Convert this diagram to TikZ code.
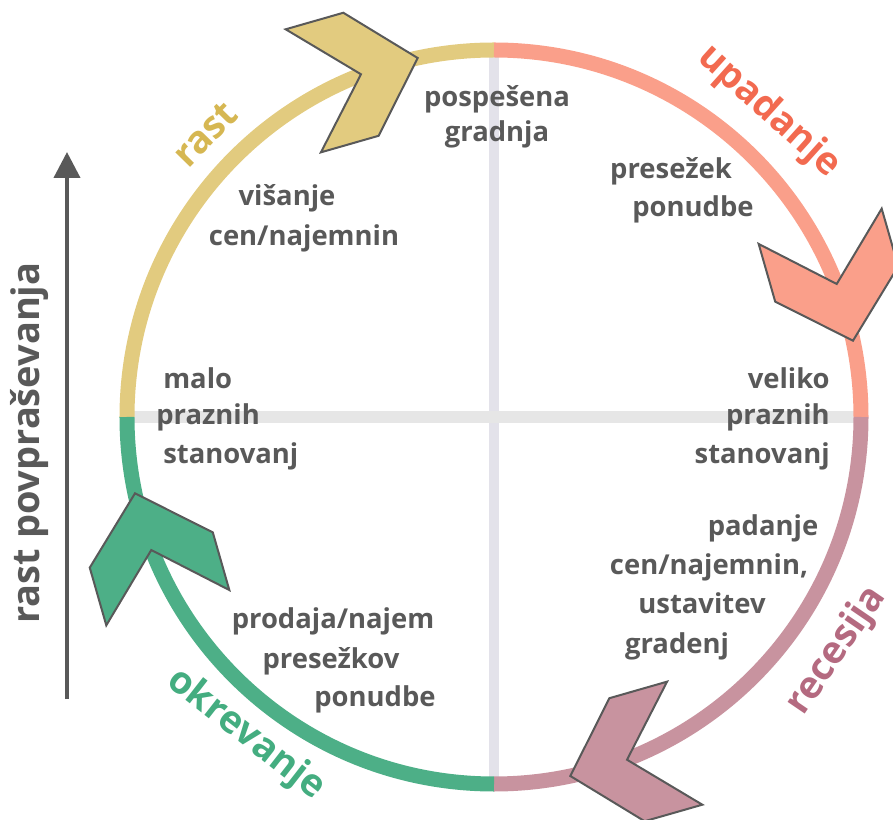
\documentclass[tikz,border=0pt]{standalone}
\usepackage{fontspec}
\setmainfont{Open Sans}
\usetikzlibrary{arrows.meta}

\definecolor{ringtan}{HTML}{E2CB7F}
\definecolor{ringsalmon}{HTML}{FA9F8A}
\definecolor{ringmauve}{HTML}{C8939F}
\definecolor{ringgreen}{HTML}{4DAF87}
\definecolor{labtan}{HTML}{D6B752}
\definecolor{labsalmon}{HTML}{F26A50}
\definecolor{labmauve}{HTML}{B46A80}
\definecolor{labgreen}{HTML}{44AD80}
\definecolor{txtgray}{HTML}{595959}
\definecolor{gridv}{HTML}{E3E2EA}
\definecolor{gridh}{HTML}{E6E6E6}

\tikzset{
  ring/.style={line width=0.375cm},
  txt/.style={text=txtgray, font=\bfseries\fontsize{19.5}{23}\selectfont, inner sep=0pt},
  phase/.style={font=\bfseries\fontsize{27}{32}\selectfont, inner sep=0pt},
  chevron/.style={draw=txtgray, line width=0.05cm, line join=miter},
}

\begin{document}
\begin{tikzpicture}[x=0.025cm, y=0.025cm]
  \useasboundingbox (-494,-403) rectangle (399,417);

  % grid
  \draw[gridv, line width=0.25cm] (0,367) -- (0,-367);
  \draw[gridh, line width=0.3cm] (-367,0) -- (367,0);

  % ring
  \draw[ring, ringtan] (180:367) arc[start angle=180, end angle=90, radius=367];
  \draw[ring, ringsalmon] (90:367) arc[start angle=90, end angle=0, radius=367];
  \draw[ring, ringmauve] (0:367) arc[start angle=0, end angle=-90, radius=367];
  \draw[ring, ringgreen] (-90:367) arc[start angle=-90, end angle=-180, radius=367];

  % chevrons
  \foreach \a/\c in {102/ringtan, 12/ringsalmon, -78/ringmauve, -168/ringgreen}
    \draw[chevron, fill=\c, shift={(\a:367)}, rotate=\a-86]
      (0,0) -- (-59,-64) -- (-119,-64) -- (-59,0) -- (-119,64) -- (-59,64) -- cycle;

  % demand axis
  \coordinate (demlow) at (-427,-282);
  \coordinate (demtop) at (-427,265);
  \draw[-{Triangle[length=0.65cm,width=0.65cm]}, txtgray, line width=0.1cm] (demlow) -- (demtop);
  \node[phase, text=txtgray, rotate=90] (demand) at (-464,-26) {rast povpraševanja};

  % phases
  \node[phase, text=labtan, rotate=45.6] (rast) at (135.6:404) {rast};
  \node[phase, text=labsalmon, rotate=-42] (upad) at (48:411) {upadanje};
  \node[phase, text=labmauve, rotate=55.7] (rec) at (-34.3:415) {recesija};
  \node[phase, text=labgreen, rotate=-38] (okr) at (232:403) {okrevanje};

  % texts
  \node[txt, anchor=mid] (pos1) at (3,314) {pospešena};
  \node[txt, anchor=mid] (pos2) at (3,279) {gradnja};
  \node[txt, anchor=mid] (vis1) at (-207,215) {višanje};
  \node[txt, anchor=mid] (vis2) at (-190,175) {cen/najemnin};
  \node[txt, anchor=mid] (pre1) at (177,242) {presežek};
  \node[txt, anchor=mid] (pre2) at (199,204) {ponudbe};
  \node[txt, anchor=mid west] (mal1) at (-331,32) {malo};
  \node[txt, anchor=mid west] (mal2) at (-338,-4) {praznih};
  \node[txt, anchor=mid west] (mal3) at (-331,-43) {stanovanj};
  \node[txt, anchor=mid east] (vel1) at (336,32) {veliko};
  \node[txt, anchor=mid east] (vel2) at (336,-4) {praznih};
  \node[txt, anchor=mid east] (vel3) at (336,-43) {stanovanj};
  \node[txt, anchor=mid] (pad1) at (269,-115) {padanje};
  \node[txt, anchor=mid] (pad2) at (215,-154) {cen/najemnin,};
  \node[txt, anchor=mid] (pad3) at (208,-193) {ustavitev};
  \node[txt, anchor=mid] (pad4) at (183,-233) {gradenj};
  \node[txt, anchor=mid] (pro1) at (-161,-208) {prodaja/najem};
  \node[txt, anchor=mid] (pro2) at (-163,-248) {presežkov};
  \node[txt, anchor=mid] (pro3) at (-119,-286) {ponudbe};
\end{tikzpicture}
\end{document}
